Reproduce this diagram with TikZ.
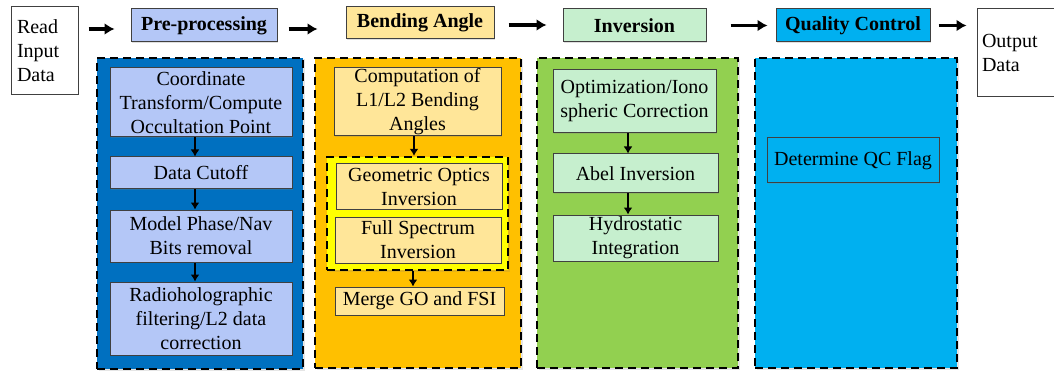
\documentclass[tikz,border=0pt]{standalone}
\usepackage{fontspec}
\setmainfont{Liberation Serif}
\usetikzlibrary{arrows.meta,shadows}
\definecolor{cblue}{HTML}{0070C0}
\definecolor{lblue}{RGB}{180,199,247}
\definecolor{corange}{HTML}{FFC000}
\definecolor{lorange}{HTML}{FFE699}
\definecolor{cyel}{HTML}{FFFF00}
\definecolor{cgreen}{HTML}{92D050}
\definecolor{lgreen}{RGB}{198,239,206}
\definecolor{cqc}{HTML}{00B0F0}
\definecolor{bord}{HTML}{404040}
\tikzset{
  box/.style={draw=bord, line width=1pt, inner sep=0pt, align=center,
    font=\fontsize{20}{24}\selectfont,
    drop shadow={opacity=0.25, shadow xshift=1.2pt, shadow yshift=-1.2pt}},
  hdr/.style={box, font=\fontsize{20}{24}\selectfont\bfseries},
  col/.style={draw=black, line width=2.6pt, dash pattern=on 8pt off 5pt, inner sep=0pt,
    drop shadow={opacity=0.2, shadow xshift=1.5pt, shadow yshift=-1.5pt}},
  bigarr/.style={line width=3.4pt, -{Latex[length=10pt,width=12pt]}},
  smallarr/.style={line width=2.6pt, -{Latex[length=7pt,width=9pt]}},
}
\begin{document}
\begin{tikzpicture}[x=1pt,y=-1pt]
\useasboundingbox (0,0) rectangle (1054,374);
\fill[white] (0,0) rectangle (1054,374);
% start / end
\node[draw=bord, line width=1pt, fill=white, minimum width=67pt, minimum height=88pt,
  text width=55pt, align=left, inner sep=0pt, font=\fontsize{20}{24}\selectfont] (read) at (44.5,51) {Read\\Input\\Data};
\node[draw=bord, line width=1pt, fill=white, minimum width=83pt, minimum height=88pt,
  text width=73pt, align=left, inner xsep=5pt, inner ysep=0pt, font=\fontsize{20}{24}\selectfont] (out) at (1018.5,53) {Output\\Data};
% headers
\node[hdr, fill=lblue, minimum width=146pt, minimum height=33pt] (pre) at (204,25.5) {Pre-processing};
\node[hdr, fill=lorange, minimum width=148pt, minimum height=32pt] (bend) at (420,23) {Bending Angle};
\node[hdr, fill=lgreen, minimum width=143pt, minimum height=33pt] (inv) at (634.5,25.5) {Inversion};
\node[hdr, fill=cqc, minimum width=154pt, minimum height=33pt] (qc) at (853,25.5) {Quality Control};
% header arrows
\draw[bigarr, shorten <=10pt, shorten >=16pt] ([yshift=-3.5pt]read.east|-pre.west) -- ([yshift=-3.5pt]pre.west);
\draw[bigarr, shorten <=11pt, shorten >=28pt] ([yshift=-3.5pt]pre.east) -- ([yshift=-3.5pt]pre.east-|bend.west);
\draw[bigarr, shorten <=14pt, shorten >=16pt] ([yshift=-2pt]bend.east) -- ([yshift=-2pt]bend.east-|inv.west);
\draw[bigarr, shorten <=24pt, shorten >=8pt] (inv.east) -- (qc.west);
\draw[bigarr, shorten <=8pt, shorten >=10pt] (qc.east) -- (qc.east-|out.west);
% columns
\node[col, fill=cblue, minimum width=206pt, minimum height=311pt] (cb) at (200,213.5) {};
\node[col, fill=corange, minimum width=206pt, minimum height=310pt] (co) at (418,213) {};
\node[col, fill=cgreen, minimum width=201pt, minimum height=310pt] (cg) at (637.5,213) {};
\node[col, fill=cqc, minimum width=202pt, minimum height=310pt] (cq) at (856,213) {};
% blue column
\node[box, fill=lblue, minimum width=182pt, minimum height=69pt] (b1) at (201,102.5) {Coordinate\\Transform/Compute\\Occultation Point};
\node[box, fill=lblue, minimum width=182pt, minimum height=32pt] (b2) at (201,173) {Data Cutoff};
\node[box, fill=lblue, minimum width=182pt, minimum height=52pt] (b3) at (201,236) {Model Phase/Nav\\Bits removal};
\node[box, fill=lblue, minimum width=182pt, minimum height=73pt] (b4) at (201,318.5) {Radioholographic\\filtering/L2 data\\correction};
\draw[smallarr] ([xshift=-6pt]b1.south) -- ([xshift=-6pt]b2.north);
\draw[smallarr] ([xshift=-6pt]b2.south) -- ([xshift=-6pt]b3.north);
\draw[smallarr] ([xshift=-6pt]b3.south) -- ([xshift=-6pt]b4.north);
% orange column
\node[box, fill=lorange, minimum width=167pt, minimum height=68pt] (o1) at (417.5,102) {Computation of\\L1/L2 Bending\\Angles};
\node[col, fill=cyel, line width=2.4pt, minimum width=181pt, minimum height=113pt] (yc) at (417.5,213.5) {};
\node[box, fill=lorange, minimum width=166pt, minimum height=45pt] (o2) at (419,186.5) {Geometric Optics\\Inversion};
\node[box, fill=lorange, minimum width=166pt, minimum height=46pt] (o3) at (418,240) {Full Spectrum\\Inversion};
\node[box, fill=lorange, minimum width=169pt, minimum height=28pt] (o4) at (419.5,301) {Merge GO and FSI};
\draw[smallarr] ([xshift=-3.5pt]o1.south) -- ([xshift=-3.5pt]yc.north);
\draw[smallarr] ([xshift=-4.5pt]yc.south) -- ([xshift=-6.5pt]o4.north);
% green column
\node[box, fill=lgreen, minimum width=163pt, minimum height=63pt] (g1) at (634.5,101.5) {Optimization/Iono\\spheric Correction};
\node[box, fill=lgreen, minimum width=165pt, minimum height=39pt] (g2) at (635.5,173.5) {Abel Inversion};
\node[box, fill=lgreen, minimum width=165pt, minimum height=46pt] (g3) at (635.5,238) {Hydrostatic\\Integration};
\draw[smallarr] ([xshift=-6.5pt]g1.south) -- ([xshift=-7.5pt]g2.north);
\draw[smallarr] ([xshift=-7.5pt]g2.south) -- ([xshift=-7.5pt]g3.north);
% qc column
\node[box, fill=cqc, minimum width=172pt, minimum height=45pt] (q1) at (853,160.5) {Determine QC Flag};
\end{tikzpicture}
\end{document}
